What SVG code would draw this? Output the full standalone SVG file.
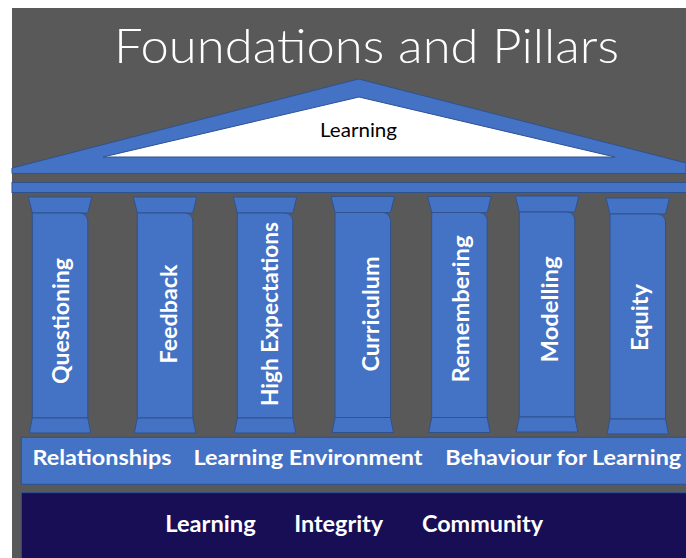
<svg xmlns="http://www.w3.org/2000/svg" width="686" height="558" viewBox="0 0 686 558">
<style>
.blue{fill:#4472C4;stroke:#2F528F;stroke-width:1}
.pt{font-family:Lato,"Open Sans","Liberation Sans",sans-serif;font-weight:700;font-size:22px;fill:#fff;text-anchor:middle}
.bt{font-family:Lato,"Open Sans","Liberation Sans",sans-serif;font-weight:700;font-size:20px;fill:#fff}
.nt{font-family:Lato,"Open Sans","Liberation Sans",sans-serif;font-weight:700;font-size:23px;fill:#fff}
</style>
<defs>
<g id="pillar">
<polygon class="blue" points="-4,197 59.5,197 55.5,213 0,213"/>
<path class="blue" d="M0,213 H47.5 A8,8 0 0 1 55.5,221 V418 H0 Z"/>
<polygon class="blue" points="0,418 55.5,418 58.5,433 -3,433"/>
</g>
</defs>
<rect x="0" y="0" width="686" height="558" fill="#ffffff"/>
<rect x="12" y="8" width="674" height="550" fill="#595959"/>
<g id="title">
<text x="114" y="63" textLength="505" lengthAdjust="spacingAndGlyphs" font-family="Lato,'Open Sans','Liberation Sans',sans-serif" font-weight="300" font-size="47" fill="#ffffff">Foundations and Pillars</text>
</g>
<g id="roof">
<polygon class="blue" points="12,168 358.5,79 686,163 686,173.5 12,173.5"/>
<polygon points="103,157 615,157 359,97" fill="#ffffff" stroke="#2F528F" stroke-width="1"/>
<text x="320" y="136.7" textLength="77" lengthAdjust="spacingAndGlyphs" font-family="Lato,'Open Sans','Liberation Sans',sans-serif" font-size="20" fill="#000000">Learning</text>
</g>
<g id="beam">
<rect class="blue" x="12" y="182.5" width="676" height="10"/>
</g>
<g id="pillar-questioning">
<use href="#pillar" transform="translate(32.3,0)"/>
<text class="pt" transform="translate(68.8,321) rotate(-90)" textLength="126" lengthAdjust="spacingAndGlyphs">Questioning</text>
</g>
<g id="pillar-feedback">
<use href="#pillar" transform="translate(137.3,0)"/>
<text class="pt" transform="translate(176.7,314) rotate(-90)" textLength="99" lengthAdjust="spacingAndGlyphs">Feedback</text>
</g>
<g id="pillar-high-expectations">
<use href="#pillar" transform="translate(237.3,0)"/>
<text class="pt" transform="translate(278.3,314) rotate(-90)" textLength="184" lengthAdjust="spacingAndGlyphs">High Expectations</text>
</g>
<g id="pillar-curriculum">
<use href="#pillar" transform="translate(335,-0.5)"/>
<text class="pt" transform="translate(379.3,314) rotate(-90)" textLength="115" lengthAdjust="spacingAndGlyphs">Curriculum</text>
</g>
<g id="pillar-remembering">
<use href="#pillar" transform="translate(431.7,-0.5)"/>
<text class="pt" transform="translate(469.3,309) rotate(-90)" textLength="147" lengthAdjust="spacingAndGlyphs">Remembering</text>
</g>
<g id="pillar-modelling">
<use href="#pillar" transform="translate(519.3,-1)"/>
<text class="pt" transform="translate(558.3,309.5) rotate(-90)" textLength="106" lengthAdjust="spacingAndGlyphs">Modelling</text>
</g>
<g id="pillar-equity">
<use href="#pillar" transform="translate(610,1)"/>
<text class="pt" transform="translate(648.3,317.5) rotate(-90)" textLength="67" lengthAdjust="spacingAndGlyphs">Equity</text>
</g>
<g id="foundation-band">
<rect class="blue" x="21.3" y="437.3" width="670" height="47"/>
<text class="bt" x="32.5" y="465" textLength="139" lengthAdjust="spacingAndGlyphs">Relationships</text>
<text class="bt" x="193.5" y="465" textLength="229" lengthAdjust="spacingAndGlyphs">Learning Environment</text>
<text class="bt" x="445.2" y="465" textLength="236" lengthAdjust="spacingAndGlyphs">Behaviour for Learning</text>
</g>
<g id="values-band">
<rect x="21.3" y="492.7" width="670" height="66" fill="#170E56" stroke="#2F528F" stroke-width="1"/>
<text class="nt" x="165.2" y="531.7" textLength="90.5" lengthAdjust="spacingAndGlyphs">Learning</text>
<text class="nt" x="294.2" y="531.7" textLength="89" lengthAdjust="spacingAndGlyphs">Integrity</text>
<text class="nt" x="422" y="531.7" textLength="121" lengthAdjust="spacingAndGlyphs">Community</text>
</g>
</svg>
